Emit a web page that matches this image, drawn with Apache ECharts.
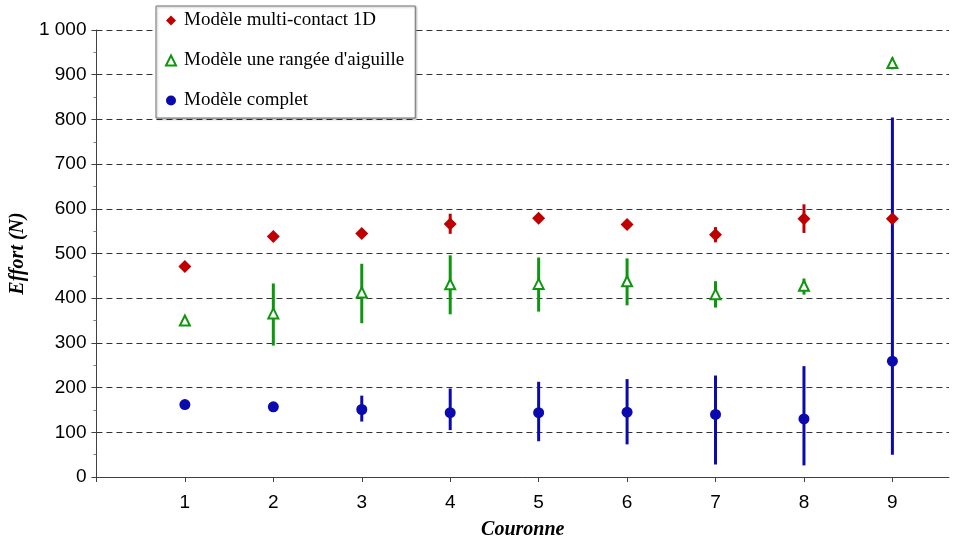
<!DOCTYPE html>
<html>
<head>
<meta charset="utf-8">
<script src="https://cdn.jsdelivr.net/npm/echarts@6/dist/echarts.min.js"></script>
<style>html,body{margin:0;padding:0;background:#fff}#c{width:973px;height:545px}</style>
</head>
<body>
<div id="c"></div>
<script>
const couronnes = [1, 2, 3, 4, 5, 6, 7, 8, 9];
const seriesNames = ["Modèle multi-contact 1D", "Modèle une rangée d'aiguille", "Modèle complet"];
const yTicks = [0, 100, 200, 300, 400, 500, 600, 700, 800, 900, 1000];

// Modèle multi-contact 1D
const redVal  = [471, 538, 545, 566, 579, 565, 542, 578, 578];
const redLow  = [null, null, null, 544, null, null, 525, 546, null];
const redHigh = [null, null, null, 589, null, null, 559, 610, null];
// Modèle une rangée d'aiguille
const greenVal  = [350, 366, 413, 431, 432, 438, 409, 428, 926];
const greenLow  = [null, 294, 344, 364, 370, 384, 379, 408, 912];
const greenHigh = [null, 433, 477, 496, 491, 489, 438, 444, 938];
// Modèle complet
const blueVal  = [162, 157, 151, 144, 144, 145, 140, 130, 259];
const blueLow  = [null, 150, 124, 105, 80, 73, 28, 26, 50];
const blueHigh = [null, 165, 182, 198, 213, 219, 227, 248, 804];

const RED = '#C00000', GREEN = '#0E960E', BLUE = '#0A0AAF';

function pts(vals) { return couronnes.map((c, i) => [c, vals[i]]); }
function bars(lo, hi) {
  const out = [];
  couronnes.forEach((c, i) => { if (lo[i] != null && hi[i] != null) out.push([c, lo[i], hi[i]]); });
  return out;
}
function errSeries(lo, hi, color) {
  return {
    type: 'custom', silent: true, z: 2,
    data: bars(lo, hi),
    renderItem: function (params, api) {
      const a = api.coord([api.value(0), api.value(1)]);
      const b = api.coord([api.value(0), api.value(2)]);
      return { type: 'line', shape: { x1: a[0], y1: a[1], x2: b[0], y2: b[1] },
               style: { stroke: color, lineWidth: 3 } };
    }
  };
}

const chart = echarts.init(document.getElementById('c'), null, { renderer: 'canvas' });
chart.setOption({
  animation: false,
  backgroundColor: '#fff',
  grid: { left: 96, right: 24, top: 30, bottom: 65 },
  legend: {
    orient: 'vertical', left: 156, top: 6,
    padding: [5, 11, 8, 9], itemGap: 21,
    backgroundColor: '#fff', borderColor: '#777', borderWidth: 1,
    shadowColor: 'rgba(0,0,0,0.3)', shadowBlur: 2, shadowOffsetX: 1, shadowOffsetY: 1,
    itemWidth: 10, itemHeight: 10,
    textStyle: { fontFamily: 'Liberation Serif', fontSize: 19, color: '#000', padding: [0, 0, 0, 3] },
    data: [
      { name: seriesNames[0], icon: 'diamond', itemStyle: { color: RED } },
      { name: seriesNames[1], icon: 'triangle', itemStyle: { color: '#fff', borderColor: GREEN, borderWidth: 2 } },
      { name: seriesNames[2], icon: 'circle', itemStyle: { color: BLUE } }
    ]
  },
  xAxis: {
    type: 'value', min: 0, max: 9.64, interval: 1,
    name: 'Couronne', nameLocation: 'middle', nameGap: 43,
    nameTextStyle: { fontFamily: 'Liberation Serif', fontStyle: 'italic', fontWeight: 'bold', fontSize: 20, color: '#000' },
    axisLine: { show: true, lineStyle: { color: '#404040', width: 1 } },
    axisTick: { show: true, length: 5, lineStyle: { color: '#404040' } },
    axisLabel: { margin: 16, fontFamily: 'Liberation Sans', fontSize: 19, color: '#000',
      showMaxLabel: false,
      formatter: v => (couronnes.indexOf(v) >= 0 ? String(v) : '') },
    splitLine: { show: false }
  },
  yAxis: {
    type: 'value', min: yTicks[0], max: yTicks[yTicks.length - 1], interval: 100,
    name: 'Effort (N)', nameLocation: 'middle', nameGap: 67,
    nameTextStyle: { fontFamily: 'Liberation Serif', fontStyle: 'italic', fontWeight: 'bold', fontSize: 20, color: '#000' },
    axisLine: { show: true, lineStyle: { color: '#404040', width: 1 } },
    axisTick: { show: true, length: 5, lineStyle: { color: '#404040' } },
    minorTick: { show: true, splitNumber: 2, length: 3, lineStyle: { color: '#808080' } },
    axisLabel: { margin: 10, fontFamily: 'Liberation Sans', fontSize: 19, color: '#000',
      formatter: v => (v >= 1000 ? Math.floor(v / 1000) + ' ' + String(v % 1000).padStart(3, '0') : String(v)) },
    splitLine: { show: true, lineStyle: { color: '#333', type: [6, 4], width: 1 } }
  },
  series: [
    errSeries(redLow, redHigh, RED),
    errSeries(greenLow, greenHigh, GREEN),
    errSeries(blueLow, blueHigh, BLUE),
    { name: seriesNames[0], type: 'scatter', z: 5, symbol: 'diamond', symbolSize: 13,
      itemStyle: { color: RED, opacity: 1 }, data: pts(redVal) },
    { name: seriesNames[1], type: 'scatter', z: 5, symbol: 'triangle', symbolSize: 10,
      itemStyle: { color: '#fff', borderColor: GREEN, borderWidth: 2, opacity: 1 }, data: pts(greenVal) },
    { name: seriesNames[2], type: 'scatter', z: 5, symbol: 'circle', symbolSize: 11,
      itemStyle: { color: BLUE, opacity: 1 }, data: pts(blueVal) }
  ]
});
</script>
</body>
</html>
